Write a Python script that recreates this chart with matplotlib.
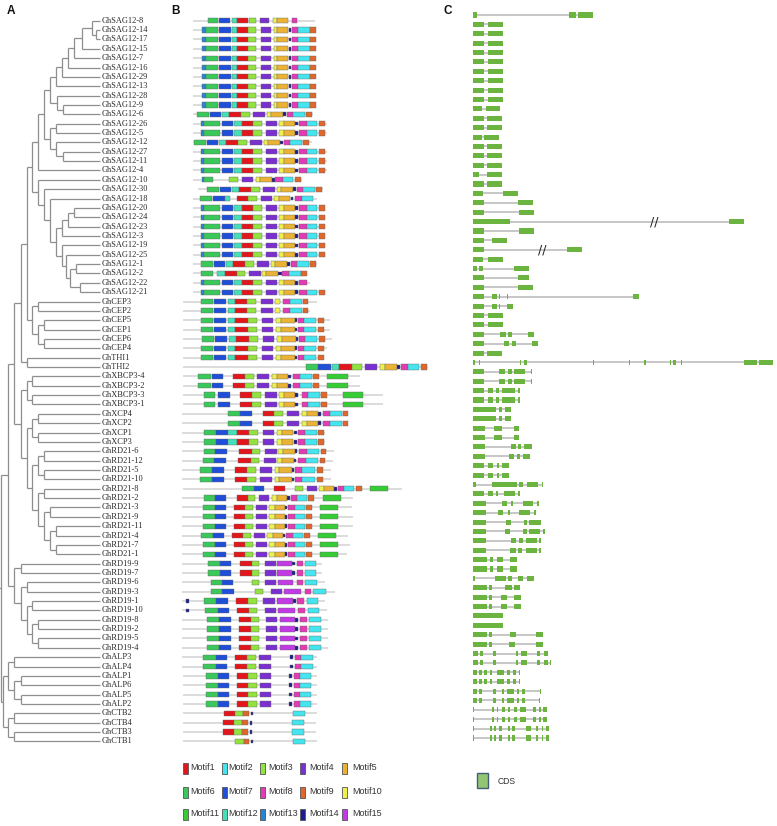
import matplotlib
matplotlib.use("Agg")
import matplotlib.pyplot as plt
from matplotlib import font_manager
from matplotlib.patches import Rectangle

# ---------------- Panel A: phylogenetic tree (node depth, children...) ----------------
SAG_upper = [44,
             [50,
              [56, [62, [68, [74, [82, [92, "GhSAG12-8", [96, "GhSAG12-14", "GhSAG12-17"]],
                                     "GhSAG12-15"], "GhSAG12-7"], "GhSAG12-16"], "GhSAG12-29"], "GhSAG12-13"],
              [57, "GhSAG12-28", [63, "GhSAG12-9", "GhSAG12-6"]]],
             [50, [56, "GhSAG12-26", "GhSAG12-5"], [56, "GhSAG12-12", [63, "GhSAG12-27", "GhSAG12-11"]]]]
SAG_U = [38, SAG_upper, "GhSAG12-4"]
SAG_V = [38, "GhSAG12-10",
         [44, "GhSAG12-30",
          [50, "GhSAG12-18",
           [56, [62, [68, [74, "GhSAG12-20", "GhSAG12-24"], "GhSAG12-23"], "GhSAG12-3"],
            [62, "GhSAG12-19", [66, "GhSAG12-25", [70, [76, "GhSAG12-1", "GhSAG12-2"],
                                                   [80, "GhSAG12-22", "GhSAG12-21"]]]]]]]]
SAG = [32, SAG_U, SAG_V]
CEP = [32, [38, "GhCEP3", "GhCEP2"], [38, [44, "GhCEP5", "GhCEP1"], [44, "GhCEP6", "GhCEP4"]]]
THI = [27, "GhTHI1", "GhTHI2"]
G1 = [21, [27, SAG, CEP], THI]
XBCP = [27, [32, "GhXBCP3-4", "GhXBCP3-2"], [32, "GhXBCP3-3", "GhXBCP3-1"]]
XCP = [32, [38, "GhXCP4", "GhXCP2"], [38, "GhXCP1", "GhXCP3"]]
RD21 = [32, [38, [44, "GhRD21-6", "GhRD21-12"], [44, "GhRD21-5", "GhRD21-10"]],
        [38, [44, "GhRD21-8", "GhRD21-2"],
         [44, [50, "GhRD21-3", "GhRD21-9"], [50, [56, "GhRD21-11", "GhRD21-4"], [56, "GhRD21-7", "GhRD21-1"]]]]]
G2 = [21, XBCP, [27, XCP, RD21]]
RD19 = [14, [21, "GhRD19-9", "GhRD19-7"],
        [21, [27, "GhRD19-6", "GhRD19-3"],
         [27, [32, "GhRD19-1", "GhRD19-10"], [32, [38, "GhRD19-8", "GhRD19-2"], [38, "GhRD19-5", "GhRD19-4"]]]]]
ALP = [8, [14, "GhALP3", "GhALP4"], [14, [21, "GhALP1", "GhALP6"], [21, "GhALP5", "GhALP2"]]]
CTB = [8, [14, "GhCTB2", "GhCTB4"], [14, "GhCTB3", "GhCTB1"]]
TREE = [1, [8, [14, G1, G2], RD19], [3, ALP, CTB]]
TIP_DEPTH = 100

# ---------------- Panel B: conserved motifs ----------------
MOTIF_COLORS = {1: "#e3161c", 2: "#44e5ee", 3: "#92e340", 4: "#7a2fd0", 5: "#eab335",
                6: "#3ac85a", 7: "#1f4fd8", 8: "#e23bb5", 9: "#e0672c", 10: "#eef050",
                11: "#35cc35", 12: "#46e0b8", 13: "#2784d0", 14: "#1c1c8e", 15: "#c23ae6"}

PATTERNS = {
    "S": [(13, 202, 206), (6, 206, 218), (7, 219, 231), (12, 232, 237), (1, 237, 248), (3, 248, 256),
          (4, 261, 271), (10, 274, 277), (5, 277, 288), (14, 289, 291), (8, 292, 298), (2, 298, 310), (9, 310, 316)],
    "R1": [(6, 208, 218), (7, 219, 230), (12, 232, 237), (1, 237, 248), (3, 249, 256), (4, 260, 269),
           (10, 273, 277), (5, 277, 288), (8, 292, 297)],
    "W": [(13, 201, 204), (6, 204, 220), (7, 222, 233), (12, 234, 242), (1, 242, 253), (3, 253, 262),
          (4, 266, 277), (10, 279, 284), (5, 284, 295), (14, 295, 298), (8, 299, 307), (2, 307, 317), (9, 319, 325)],
    "W8": [(13, 201, 204), (6, 204, 220), (7, 222, 233), (12, 234, 242), (1, 242, 253), (3, 253, 262),
           (4, 266, 277), (10, 279, 284), (5, 284, 295), (14, 295, 298), (8, 299, 307)],
    "N": [(6, 201, 213), (7, 214, 225), (12, 226, 233), (1, 233, 245), (3, 245, 254), (4, 257, 269),
          (10, 271, 275), (5, 275, 287), (14, 287, 290), (8, 291, 297), (2, 297, 309), (9, 310, 316)],
    "R18": [(13, 202, 204), (6, 204, 213), (3, 229, 238), (4, 242, 253), (10, 256, 260), (5, 260, 272),
            (14, 272, 275), (8, 275, 283), (2, 283, 293), (9, 295, 301)],
    "R20": [(6, 200, 212), (7, 213, 225), (12, 225, 230), (1, 237, 248), (3, 248, 257), (4, 261, 272),
            (10, 274, 279), (5, 279, 290), (14, 291, 293), (8, 295, 302), (2, 302, 313)],
    "R28": [(6, 201, 213), (12, 217, 225), (1, 225, 237), (3, 237, 245), (4, 249, 261), (10, 262, 266),
            (5, 266, 278), (14, 278, 282), (8, 282, 289), (2, 289, 301), (9, 301, 307)],
    "C1": [(6, 201, 213), (7, 214, 226), (12, 228, 235), (1, 235, 247), (3, 247, 256), (4, 261, 273),
           (10, 275, 280), (8, 283, 290), (2, 290, 302), (9, 303, 308)],
    "C5": [(6, 201, 213), (7, 214, 226), (12, 228, 235), (1, 235, 248), (3, 248, 257), (4, 262, 273),
           (10, 276, 281), (5, 281, 295), (14, 295, 297), (8, 298, 304), (2, 304, 316), (9, 318, 324)],
    "T2": [(6, 306, 318), (7, 318, 331), (12, 332, 339), (1, 339, 352), (3, 352, 362), (4, 365, 377),
           (10, 380, 385), (5, 385, 397), (14, 397, 400), (8, 401, 408), (2, 408, 419), (9, 421, 427)],
    "X1": [(6, 198, 211), (7, 212, 223), (1, 233, 245), (3, 245, 254), (4, 257, 269), (10, 272, 277),
           (5, 277, 288), (14, 288, 291), (8, 293, 300), (2, 300, 312), (9, 313, 319), (11, 327, 348)],
    "X3": [(6, 204, 215), (7, 218, 230), (1, 240, 252), (3, 252, 261), (4, 265, 277), (10, 279, 284),
           (5, 284, 295), (14, 295, 298), (8, 302, 308), (2, 308, 320), (9, 321, 327), (11, 343, 363)],
    "XC4": [(6, 228, 240), (7, 240, 252), (1, 263, 274), (3, 274, 283), (4, 287, 299), (10, 302, 307),
            (5, 307, 318), (14, 318, 321), (8, 323, 330), (2, 330, 342), (9, 343, 348)],
    "XC1": [(6, 204, 216), (7, 216, 228), (12, 228, 237), (1, 237, 249), (3, 249, 258), (4, 263, 274),
            (10, 277, 282), (5, 282, 293), (14, 294, 297), (8, 298, 305), (2, 305, 317), (9, 318, 324)],
    "RA": [(6, 204, 215), (7, 215, 227), (1, 239, 252), (3, 252, 260), (4, 265, 277), (10, 278, 283),
           (5, 283, 295), (14, 295, 297), (8, 299, 307), (2, 307, 319), (9, 321, 326)],
    "RB": [(6, 200, 212), (7, 212, 224), (1, 235, 247), (3, 247, 256), (4, 260, 272), (10, 275, 279),
           (5, 279, 292), (14, 292, 294), (8, 295, 302), (2, 302, 315), (9, 317, 323)],
    "R8": [(6, 242, 254), (7, 254, 264), (1, 274, 285), (3, 295, 303), (4, 307, 317), (10, 319, 324),
           (5, 324, 334), (14, 334, 337), (8, 338, 344), (2, 344, 354), (9, 356, 362), (11, 370, 388)],
    "RC": [(6, 204, 215), (7, 215, 226), (1, 237, 248), (3, 248, 255), (4, 259, 269), (10, 272, 277),
           (5, 277, 287), (14, 287, 290), (8, 291, 297), (2, 297, 307), (9, 308, 314), (11, 323, 341)],
    "RD": [(6, 203, 215), (7, 215, 226), (1, 234, 245), (3, 245, 253), (4, 256, 267), (10, 269, 275),
           (5, 275, 285), (14, 285, 287), (8, 288, 295), (2, 295, 305), (9, 306, 312), (11, 320, 338)],
    "D9": [(6, 208, 220), (7, 220, 231), (1, 240, 252), (3, 252, 259), (4, 265, 276), (15, 277, 292),
           (14, 292, 295), (8, 297, 303), (2, 305, 316)],
    "D6": [(6, 211, 222), (7, 222, 233), (3, 252, 259), (4, 265, 276), (15, 278, 293), (8, 297, 303), (2, 305, 317)],
    "D3": [(6, 211, 222), (7, 222, 234), (3, 255, 263), (4, 271, 282), (15, 284, 301), (8, 305, 311), (2, 313, 326)],
    "D1": [(14, 186, 189), (6, 204, 216), (7, 216, 228), (1, 236, 248), (3, 248, 257), (4, 263, 275),
           (15, 277, 293), (14, 293, 296), (8, 297, 304), (2, 307, 318)],
    "D10": [(14, 186, 189), (6, 205, 218), (7, 218, 229), (1, 237, 249), (3, 249, 257), (4, 265, 276),
            (15, 278, 295), (8, 298, 305), (2, 308, 319)],
    "D8": [(6, 207, 219), (7, 219, 231), (1, 239, 251), (3, 251, 259), (4, 266, 277), (15, 280, 295),
           (14, 295, 298), (8, 300, 307), (2, 309, 321)],
    "A3": [(6, 203, 216), (7, 216, 227), (1, 235, 247), (3, 247, 256), (4, 259, 271), (14, 290, 293),
           (8, 295, 301), (2, 301, 313)],
    "A1": [(6, 206, 218), (7, 218, 229), (1, 237, 248), (3, 248, 257), (4, 260, 271), (14, 289, 292),
           (8, 294, 300), (2, 300, 311)],
    "B2": [(1, 224, 235), (3, 235, 243), (9, 243, 249), (14, 251, 253), (2, 293, 305)],
    "B4": [(1, 223, 234), (3, 234, 242), (9, 242, 248), (14, 250, 252), (2, 292, 304)],
    "B1": [(3, 235, 244), (9, 244, 249), (14, 251, 253), (2, 293, 305)],
}

# one entry per gene in tree order: (pattern, shift, protein start, protein end)
MOTIF_ROWS = [
    ("R1", 0, 193, 315), ("S", 0, 193, 316), ("S", 0, 193, 316), ("S", 0, 193, 316), ("S", 0, 193, 316),
    ("S", 0, 193, 316), ("S", 0, 193, 316), ("S", 0, 193, 316), ("S", 0, 193, 316), ("S", 0, 193, 316),
    ("N", -4, 193, 313), ("W", 0, 193, 327), ("W", 0, 193, 327), ("N", -7, 193, 312), ("W", 0, 193, 327),
    ("W", 0, 193, 327), ("W", 0, 193, 327), ("R18", 0, 193, 302), ("N", 6, 198, 323), ("R20", 0, 193, 317),
    ("W", 0, 193, 325), ("W", 0, 193, 325), ("W", 0, 193, 325), ("W", 0, 193, 325), ("W", 0, 193, 325),
    ("W", 0, 193, 325), ("N", 0, 193, 317), ("R28", 0, 193, 307), ("W8", 0, 193, 310), ("W", 0, 193, 325),
    ("C1", 0, 183, 317), ("C1", 0, 183, 310), ("C5", 0, 183, 330), ("C5", 0, 183, 330), ("C5", 1, 183, 332),
    ("C5", 0, 183, 327), ("C5", 0, 183, 323), ("T2", 0, 183, 428),
    ("X1", 0, 183, 360), ("X1", 0, 183, 360), ("X3", 0, 183, 383), ("X3", 0, 183, 383),
    ("XC4", 0, 182, 348), ("XC4", 0, 182, 348), ("XC1", 0, 182, 325), ("XC1", 0, 182, 325),
    ("RA", 0, 182, 334), ("RA", -1, 182, 333), ("RB", 0, 182, 331), ("RB", 0, 182, 331),
    ("R8", 0, 183, 402), ("RC", 0, 182, 353), ("RD", 0, 182, 352), ("RD", 0, 182, 353), ("RD", 0, 182, 353),
    ("RD", -2, 182, 348), ("RD", 0, 182, 350), ("RD", 0, 182, 347),
    ("D9", 0, 182, 322), ("D9", 0, 182, 322), ("D6", 0, 182, 325), ("D3", 0, 182, 335), ("D1", 0, 182, 325),
    ("D10", 0, 182, 327), ("D8", 0, 182, 328), ("D8", 0, 182, 328), ("D8", 0, 182, 328), ("D8", 0, 182, 328),
    ("A3", 0, 182, 317), ("A3", 0, 182, 317), ("A1", 0, 183, 317), ("A1", 0, 183, 317), ("A1", 0, 183, 317),
    ("A1", 0, 183, 317), ("B2", 0, 183, 317), ("B4", 0, 183, 316), ("B4", 0, 183, 316), ("B1", 0, 183, 317),
]

# ---------------- Panel C: gene structure (CDS exons) ----------------
E_SAG = [(473, 484), (488, 503)]
GENE_EXONS = [
    [(473, 477), (569, 576), (578, 593)],
    E_SAG, E_SAG, E_SAG, E_SAG, E_SAG, E_SAG, E_SAG, E_SAG, E_SAG,
    [(473, 482), (486, 500)],
    [(473, 484), (487, 502)], [(473, 484), (487, 502)],
    [(473, 482), (484, 499)],
    [(473, 484), (487, 502)], [(473, 484), (487, 502)], [(473, 484), (487, 502)],
    [(473, 479), (487, 502)],
    [(473, 484), (487, 502)],
    [(473, 483), (503, 518)],
    [(473, 484), (518, 533)],
    [(473, 484), (519, 534)],
    [(473, 510), (729, 744)],
    [(473, 484), (519, 534)],
    [(473, 484), (492, 507)],
    [(473, 484), (567, 582)],
    [(473, 483), (488, 503)],
    [(473, 477), (479, 483), (514, 529)],
    [(473, 484), (518, 529)],
    [(473, 484), (518, 533)],
    [(473, 484), (492, 497), (499, 500), (507, 508), (633, 639)],
    [(473, 484), (492, 497), (499, 500), (507, 513)],
    [(473, 484), (488, 503)], [(473, 484), (488, 503)],
    [(473, 484), (500, 506), (508, 512), (528, 534)],
    [(473, 484), (504, 509), (512, 516), (532, 538)],
    [(473, 484), (487, 502)],
    [(473, 475), (479, 480), (520, 521), (524, 527), (593, 594), (629, 630), (644, 646), (670, 671),
     (673, 676), (681, 682), (744, 757), (759, 773)],
    [(473, 484), (499, 505), (508, 512), (514, 525), (531, 532)],
    [(473, 484), (499, 505), (508, 512), (514, 525), (531, 532)],
    [(473, 484), (488, 493), (496, 499), (502, 515), (518, 520)],
    [(473, 484), (488, 493), (496, 499), (502, 515), (518, 520)],
    [(473, 496), (499, 502), (505, 511)], [(473, 496), (499, 502), (505, 511)],
    [(473, 485), (494, 502), (514, 519)], [(473, 485), (494, 502), (514, 519)],
    [(473, 485), (511, 516), (518, 521), (524, 532)],
    [(473, 485), (509, 514), (517, 520), (523, 530)],
    [(473, 484), (488, 493), (497, 499), (502, 509)],
    [(473, 484), (488, 493), (497, 499), (502, 509)],
    [(473, 476), (492, 517), (519, 523), (527, 538), (542, 543)],
    [(473, 484), (488, 493), (496, 498), (504, 515), (518, 520)],
    [(473, 486), (502, 507), (511, 513), (523, 533), (537, 539)],
    [(473, 486), (498, 503), (508, 510), (519, 530), (534, 536)],
    [(473, 486), (506, 511), (524, 527), (529, 541)],
    [(473, 486), (505, 510), (523, 527), (529, 540), (543, 545)],
    [(473, 486), (511, 516), (519, 523), (526, 537), (539, 541)],
    [(473, 486), (510, 516), (518, 522), (526, 537), (539, 541)],
    [(473, 487), (490, 493), (497, 503), (510, 517)],
    [(473, 487), (490, 493), (497, 503), (510, 517)],
    [(473, 475), (495, 506), (508, 512), (518, 523), (527, 534)],
    [(473, 487), (489, 492), (505, 512), (514, 520)],
    [(473, 487), (489, 492), (501, 507), (514, 521)],
    [(473, 487), (489, 492), (501, 507), (514, 521)],
    [(473, 503)], [(473, 503)],
    [(473, 487), (489, 492), (510, 516), (536, 543)],
    [(473, 487), (489, 492), (509, 515), (536, 543)],
    [(473, 478), (480, 483), (493, 496), (516, 518), (521, 527), (537, 540), (544, 548)],
    [(473, 478), (480, 483), (493, 496), (516, 518), (521, 527), (537, 540), (544, 548), (550, 551)],
    [(473, 477), (479, 482), (484, 487), (490, 492), (497, 504), (507, 510), (513, 516), (519, 520)],
    [(473, 477), (479, 482), (484, 487), (490, 492), (497, 504), (507, 510), (513, 516), (519, 520)],
    [(473, 477), (479, 482), (493, 496), (502, 504), (507, 514), (517, 519), (522, 525), (540, 541)],
    [(473, 477), (479, 482), (493, 496), (502, 504), (507, 514), (517, 519), (522, 525), (539, 540)],
    [(473, 474), (492, 494), (497, 498), (502, 505), (508, 510), (514, 517), (520, 526), (533, 536),
     (539, 541), (543, 547)],
    [(473, 474), (492, 494), (497, 498), (502, 505), (508, 510), (514, 517), (520, 526), (533, 536),
     (539, 541), (543, 547)],
    [(473, 474), (490, 492), (494, 496), (499, 502), (508, 510), (512, 515), (526, 531), (536, 538),
     (542, 543), (546, 549)],
    [(473, 474), (490, 492), (494, 496), (499, 502), (508, 510), (512, 515), (526, 531), (536, 538),
     (542, 543), (546, 549)],
]
GENE_BREAKS = {22: 654, 25: 542}   # row index -> position of "//" intron break

# ---------------- fonts ----------------
def has_font(name):
    try:
        font_manager.findfont(font_manager.FontProperties(family=name), fallback_to_default=False)
        return True
    except Exception:
        return False

if has_font("Liberation Sans Narrow"):
    LEG_FONT, LEG_SIZE, CDS_SIZE = "Liberation Sans Narrow", 8.5, 7.5
elif has_font("DejaVu Sans Condensed"):
    LEG_FONT, LEG_SIZE, CDS_SIZE = "DejaVu Sans Condensed", 6.8, 6.2
else:
    LEG_FONT, LEG_SIZE, CDS_SIZE = "Liberation Sans", 6.5, 6.2

# ---------------- drawing ----------------
W_PX, H_PX = 777, 826
fig = plt.figure(figsize=(W_PX / 100, H_PX / 100), dpi=100)

def leaves(node):
    if isinstance(node, str):
        return [node]
    out = []
    for c in node[1:]:
        out += leaves(c)
    return out

LABELS = leaves(TREE)
ypos = {name: i for i, name in enumerate(LABELS)}

ROW0, DROW = 20.7, 9.36
ax = fig.add_axes([0, 0, 1, 1])
ax.set_xlim(0, W_PX)
ax.set_ylim((H_PX - ROW0) / DROW, -ROW0 / DROW)
ax.axis("off")

TREE_COLOR = "#8e8e8e"

def draw(node):
    if isinstance(node, str):
        return TIP_DEPTH, ypos[node]
    x = node[0]
    pts = [draw(c) for c in node[1:]]
    ys = [p[1] for p in pts]
    for cx, cy in pts:
        ax.plot([x, cx], [cy, cy], color=TREE_COLOR, lw=0.9, solid_capstyle="butt")
    ax.plot([x, x], [min(ys), max(ys)], color=TREE_COLOR, lw=0.9, solid_capstyle="butt")
    return x, (min(ys) + max(ys)) / 2

rx, ry = draw(TREE)
ax.plot([0, rx], [ry, ry], color=TREE_COLOR, lw=0.9)

for name, i in ypos.items():
    ax.text(102, i, name, fontsize=6, family=["Liberation Serif", "DejaVu Serif"],
            va="center", ha="left", color="#2a2a2a")

# motifs
BOX_H = 0.56
for i, (pat, shift, ls, le) in enumerate(MOTIF_ROWS):
    ax.plot([ls, le], [i, i], color="#d2d2d2", lw=1.1, zorder=1, solid_capstyle="butt")
    for m, s, e in PATTERNS[pat]:
        h = BOX_H * (0.7 if m == 14 else 1.0)
        ax.add_patch(Rectangle((s + shift, i - h / 2), e - s, h, facecolor=MOTIF_COLORS[m],
                               edgecolor="#6a6a6a", lw=0.3, zorder=2))

# gene structures
axC = fig.add_axes([0, 0, 1, 1])
C0, DC = 15.0, 9.39
axC.set_xlim(0, W_PX)
axC.set_ylim((H_PX - C0) / DC, -C0 / DC)
axC.axis("off")
axC.patch.set_alpha(0)
EXON_COLOR = "#6cb440"
for i, exons in enumerate(GENE_EXONS):
    axC.plot([exons[0][0], exons[-1][1]], [i, i], color="#bdbdbd", lw=1.2, zorder=1, solid_capstyle="butt")
    for s, e in exons:
        w = max(e - s, 1.2)
        axC.add_patch(Rectangle((s, i - 0.27), w, 0.54, facecolor=EXON_COLOR, edgecolor="none", zorder=2))
for i, x in GENE_BREAKS.items():
    axC.text(x, i, "//", fontsize=9, ha="center", va="center", color="#222222", zorder=3,
             family="DejaVu Sans")

# overlay in pixel coordinates: panel letters & legends
axO = fig.add_axes([0, 0, 1, 1])
axO.set_xlim(0, W_PX)
axO.set_ylim(H_PX, 0)
axO.axis("off")
axO.patch.set_alpha(0)

for letter, x in (("A", 11), ("B", 176), ("C", 448)):
    axO.text(x, 11, letter, fontsize=8.5, fontweight="bold", family="Liberation Sans",
             ha="center", va="center", color="#111111")

LEG_PATCH_X = [183, 222, 260, 300, 342]
LEG_TEXT_X = [190, 228, 268, 309, 352]
LEG_Y = [768, 792, 814]
for m in range(1, 16):
    col, row = (m - 1) % 5, (m - 1) // 5
    px, py = LEG_PATCH_X[col], LEG_Y[row]
    axO.add_patch(Rectangle((px, py - 5.5), 5, 11, facecolor=MOTIF_COLORS[m], edgecolor="#555555", lw=0.6))
    axO.text(LEG_TEXT_X[col], py, "Motif%d" % m, fontsize=LEG_SIZE, family=[LEG_FONT, "DejaVu Sans"],
             ha="left", va="center", color="#333333")

axO.add_patch(Rectangle((477, 773), 11, 15, facecolor="#93c572", edgecolor="#3f5f7a", lw=1.0))
axO.text(498, 781, "CDS", fontsize=CDS_SIZE, family=[LEG_FONT, "DejaVu Sans"], ha="left", va="center",
         color="#333333")

fig.savefig("out.png", dpi=100)
